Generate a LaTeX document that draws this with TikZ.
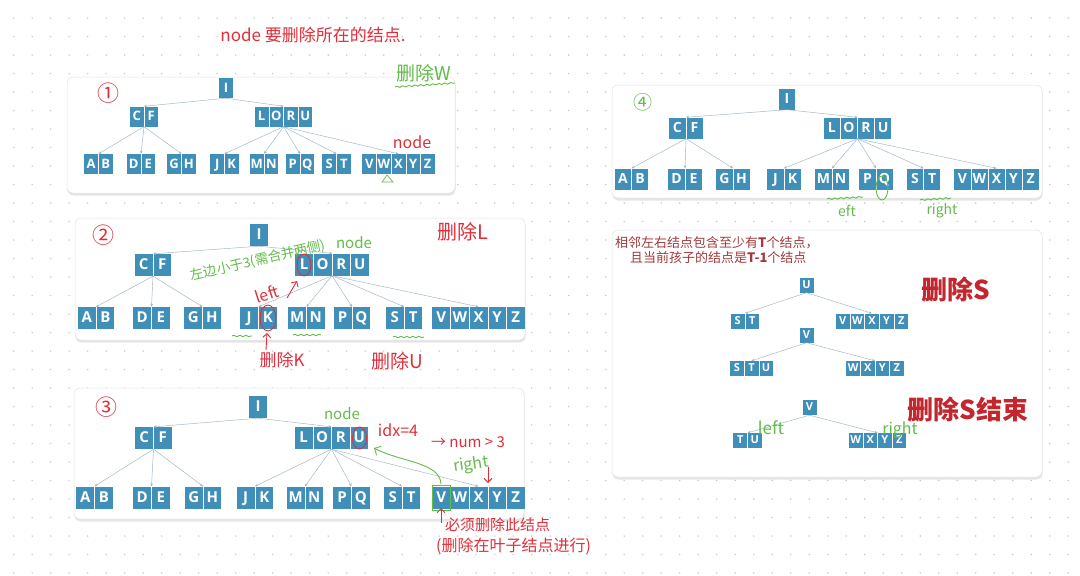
\documentclass[tikz,border=0pt]{standalone}
\usepackage{fontspec}
\newfontfamily\keyfont{Open Sans}
\newfontfamily\cjk{Noto Sans CJK SC}
\usetikzlibrary{arrows.meta,decorations.pathmorphing}
\definecolor{keyblue}{HTML}{3F8FB8}
\definecolor{linkgray}{HTML}{9FB4C2}
\definecolor{inkred}{HTML}{E02F3A}
\definecolor{inkgreen}{HTML}{62BC48}
\definecolor{notered}{HTML}{A23A3D}
\definecolor{titlered}{HTML}{C4262E}
\definecolor{framegray}{HTML}{E2E2E2}
\definecolor{dotgray}{HTML}{C9C9C9}

\newlength\cellw \newlength\cellh \newlength\celld
\newcommand\fs[1]{\fontsize{#1}{#1}\selectfont}
\newcommand\kc[1]{\makebox[\cellw]{\vrule width0pt height\cellh depth\celld\relax#1}}
\newcommand\ksep{{\color{white}\vrule width0.6pt height\cellh depth\celld}}
\def\bkeys#1{\edef\bkeylist{#1}\expandafter\bkeysA\bkeylist\relax}
\def\bkeysA#1{\kc{#1}\bkeysB}
\def\bkeysB#1{\ifx\relax#1\else\ksep\kc{#1}\expandafter\bkeysB\fi}

\begin{document}
\begin{tikzpicture}[
  x=1pt,
  y=-1pt,
  keynode/.style={fill=keyblue, text=white, inner sep=0pt},
  cells/.code 2 args={\setlength\cellw{#1}\setlength\cellh{\dimexpr#2*71/100\relax}\setlength\celld{\dimexpr#2*29/100\relax}},
  link/.style={-{Stealth[length=3pt,width=2.6pt]}, draw=linkgray, line width=0.45pt},
  panel/.style={rounded corners=6pt, fill=white, draw=framegray, line width=0.5pt},
  panelshadow/.style={rounded corners=6pt, fill=black, opacity=0.10},
  redhand/.style={text=inkred, font=\cjk\fs{#1}, inner sep=0pt},
  greenhand/.style={text=inkgreen, font=\cjk\fs{#1}, inner sep=0pt},
  redmark/.style={draw=inkred, line width=0.9pt},
  greenmark/.style={draw=inkgreen, line width=0.9pt},
  wavy/.style={greenmark, decorate, decoration={snake, amplitude=0.7pt, segment length=6pt}}
]
\useasboundingbox (0,0) rectangle (1080,576);
\fill[white] (0,0) rectangle (1080,576);
\foreach \i in {0,...,57}
  \foreach \j in {0,...,30}
    \fill[dotgray] (13.7+18.5*\i,18+18.5*\j) circle (0.8);

\foreach \a/\b/\c/\d in {67/77/455/193, 75/218/525/340, 74/388/524/519, 612/85/1042/198, 612/230/1042/477} {
  \fill[panelshadow] (\a+0.5,\b+2) rectangle (\c+0.5,\d+2.5);
  \draw[panel] (\a,\b) rectangle (\c,\d);
}

% panel 1
\begin{scope}[cells={14pt}{20pt}, keynode/.append style={font=\keyfont\bfseries\fs{13}}]
\node[keynode] (p1i) at (226,88) {\bkeys{I}};
\node[keynode] (p1cf) at (144,116.5) {\bkeys{CF}};
\node[keynode] (p1loru) at (283.5,116.5) {\bkeys{LORU}};
\foreach \nm/\ks/\x in {ab/AB/98.5, de/DE/141, gh/GH/181.5, jk/JK/224.5, mn/MN/264, pq/PQ/300, st/ST/336.5, vz/VWXYZ/398.5}
  \node[keynode] (p1\nm) at (\x,164) {\bkeys{\ks}};
\draw[link] (p1i.south) -- (p1cf.north);
\draw[link] (p1i.south) -- (p1loru.north);
\foreach \nm in {ab,de,gh} \draw[link] (p1cf.south) -- (p1\nm.north);
\foreach \nm in {jk,mn,pq,st,vz} \draw[link] (p1loru.south) -- (p1\nm.north);
\end{scope}
\node[redhand=17] (p1note) at (313,35) {node 要删除所在的结点.};
\node[redhand=22] (p1num) at (108,93) {①};
\node[greenhand=19] (p1del) at (424,73) {删除W};
\draw[wavy] (395,87) -- (455,83);
\node[redhand=16] (p1node) at (412,142) {node};
\draw[greenmark, line width=0.7pt] (387,175) -- (382,182) -- (393,182) -- cycle;

% panel 2
\begin{scope}[cells={18pt}{22pt}, keynode/.append style={font=\keyfont\bfseries\fs{15}}]
\node[keynode] (p2i) at (259,235) {\bkeys{I}};
\node[keynode] (p2cf) at (153,265) {\bkeys{CF}};
\node[keynode] (p2loru) at (332,264.5) {\bkeys{LORU}};
\foreach \nm/\ks/\x in {ab/AB/96, de/DE/151.5, gh/GH/202.5, jk/JK/258.5, mn/MN/306.5, pq/PQ/352, st/ST/404, vz/VWXYZ/478.5}
  \node[keynode] (p2\nm) at (\x,318) {\bkeys{\ks}};
\draw[link] (p2i.south) -- (p2cf.north);
\draw[link] (p2i.south) -- (p2loru.north);
\foreach \nm in {ab,de,gh} \draw[link] (p2cf.south) -- (p2\nm.north);
\foreach \nm in {jk,mn,pq,st,vz} \draw[link] (p2loru.south) -- (p2\nm.north);
\end{scope}
\node[redhand=22] (p2num) at (103,235) {②};
\node[redhand=20] (p2del) at (463,232) {删除L};
\node[greenhand=13.5, rotate=13] (p2merge) at (258,261) {左边小于3(需合并两侧)};
\node[greenhand=15] (p2node) at (354,243) {node};
\draw[redmark] (304,265) ellipse [x radius=7, y radius=11];
\node[redhand=16, rotate=18] (p2left) at (267,294) {left};
\draw[redmark, -{Straight Barb[length=4pt]}] (287,298) -- (297,281);
\draw[redmark] (268,318) ellipse [x radius=8, y radius=13];
\draw[redmark, -{Straight Barb[length=4pt]}] (266,350) -- (267,333);
\node[redhand=17] (p2delk) at (282,360) {删除K};
\node[redhand=19] (p2delu) at (397,361) {删除U};
\draw[wavy] (232,336) -- (252,336);
\draw[wavy] (293,335) -- (321,335);
\draw[wavy] (393,337) -- (424,337);

% panel 3
\begin{scope}[cells={18pt}{22pt}, keynode/.append style={font=\keyfont\bfseries\fs{15}}]
\node[keynode] (p3i) at (258,407) {\bkeys{I}};
\node[keynode] (p3cf) at (153.5,438) {\bkeys{CF}};
\node[keynode] (p3loru) at (331.5,438) {\bkeys{LORU}};
\foreach \nm/\ks/\x in {ab/AB/94.5, de/DE/151.5, gh/GH/203, jk/JK/255, mn/MN/305, pq/PQ/351.5, st/ST/402, vz/VWXYZ/478.5}
  \node[keynode] (p3\nm) at (\x,497.5) {\bkeys{\ks}};
\draw[link] (p3i.south) -- (p3cf.north);
\draw[link] (p3i.south) -- (p3loru.north);
\foreach \nm in {ab,de,gh} \draw[link] (p3cf.south) -- (p3\nm.north);
\foreach \nm in {jk,mn,pq,st,vz} \draw[link] (p3loru.south) -- (p3\nm.north);
\end{scope}
\node[redhand=22] (p3num) at (106,407) {③};
\node[greenhand=15] (p3node) at (342,414) {node};
\draw[redmark] (359.5,438) ellipse [x radius=7, y radius=11];
\node[redhand=16] (p3idx) at (398,430) {idx=4};
\node[redhand=15] (p3num2) at (468,442) {→ num > 3};
\node[greenhand=16, rotate=8] (p3right) at (471,465) {right};
\draw[redmark, -{Straight Barb[length=4pt]}] (488,467) -- (488,483);
\draw[greenmark] (432,485) rectangle (450,510);
\draw[greenmark, -{Straight Barb[length=5pt]}] (441,484) .. controls (440,462) and (400,462) .. (374,448);
\draw[redmark, -{Straight Barb[length=4pt]}] (441,523) -- (441,508);
\node[redhand=15, anchor=west] (p3must) at (445,525) {必须删除此结点};
\node[redhand=16, anchor=west] (p3leaf) at (436,546) {(删除在叶子结点进行)};

% panel 4
\begin{scope}[cells={16.5pt}{21pt}, keynode/.append style={font=\keyfont\bfseries\fs{14}}]
\node[keynode] (p4i) at (787,99) {\bkeys{I}};
\node[keynode] (p4cf) at (686,128) {\bkeys{CF}};
\node[keynode] (p4loru) at (857.5,128) {\bkeys{LORU}};
\foreach \nm/\ks/\x in {ab/AB/631.5, de/DE/685, gh/GH/733, jk/JK/784, mn/MN/832, pq/PQ/876, st/ST/923.5, vz/VWXYZ/996.5}
  \node[keynode] (p4\nm) at (\x,179) {\bkeys{\ks}};
\draw[link] (p4i.south) -- (p4cf.north);
\draw[link] (p4i.south) -- (p4loru.north);
\foreach \nm in {ab,de,gh} \draw[link] (p4cf.south) -- (p4\nm.north);
\foreach \nm in {jk,mn,pq,st,vz} \draw[link] (p4loru.south) -- (p4\nm.north);
\end{scope}
\node[greenhand=19] (p4num) at (643,102) {④};
\draw[greenmark] (882,188) ellipse [x radius=6, y radius=12];
\draw[wavy] (827,199) -- (863,197);
\node[greenhand=14] (p4left) at (847,211) {eft};
\draw[wavy] (920,200) -- (951,198);
\node[greenhand=14] (p4right) at (942,211) {right};

% panel 5
\node[anchor=west, text=notered, font=\cjk\fs{13}, inner sep=0pt] (p5rule) at (615,243) {相邻左右结点包含至少有\textbf{T}个结点，};
\node[anchor=west, text=notered, font=\cjk\fs{13}, inner sep=0pt] (p5rule2) at (630,258) {且当前孩子的结点是\textbf{T-1}个结点};
\begin{scope}[cells={14pt}{15pt}, keynode/.append style={font=\keyfont\bfseries\fs{11}}]
\node[keynode] (p5u) at (806.5,285) {\bkeys{U}};
\node[keynode] (p5st) at (745,321) {\bkeys{ST}};
\node[keynode] (p5vz) at (872,321) {\bkeys{VWXYZ}};
\node[keynode] (p5v) at (806.5,335) {\bkeys{V}};
\node[keynode] (p5stu) at (751.5,368.5) {\bkeys{STU}};
\node[keynode] (p5wz) at (875,368.5) {\bkeys{WXYZ}};
\node[keynode] (p5vv) at (809.5,407.5) {\bkeys{V}};
\node[keynode] (p5tu) at (747.5,440.5) {\bkeys{TU}};
\node[keynode] (p5wzz) at (877.5,440.5) {\bkeys{WXYZ}};
\draw[link] (p5u.south) -- (p5st.north);
\draw[link] (p5u.south) -- (p5vz.north);
\draw[link] (p5v.south) -- (p5stu.north);
\draw[link] (p5v.south) -- (p5wz.north);
\draw[link] (p5vv.south) -- (p5tu.north);
\draw[link] (p5vv.south) -- (p5wzz.north);
\end{scope}
\node[text=titlered, font=\cjk\bfseries\fs{26}, inner sep=0pt] (p5del) at (956,290) {删除S};
\node[text=titlered, font=\cjk\bfseries\fs{26}, inner sep=0pt] (p5done) at (968,410) {删除S结束};
\node[greenhand=17] (p5left) at (771,428) {left};
\node[greenhand=16] (p5right) at (900,430) {right};

\end{tikzpicture}
\end{document}
